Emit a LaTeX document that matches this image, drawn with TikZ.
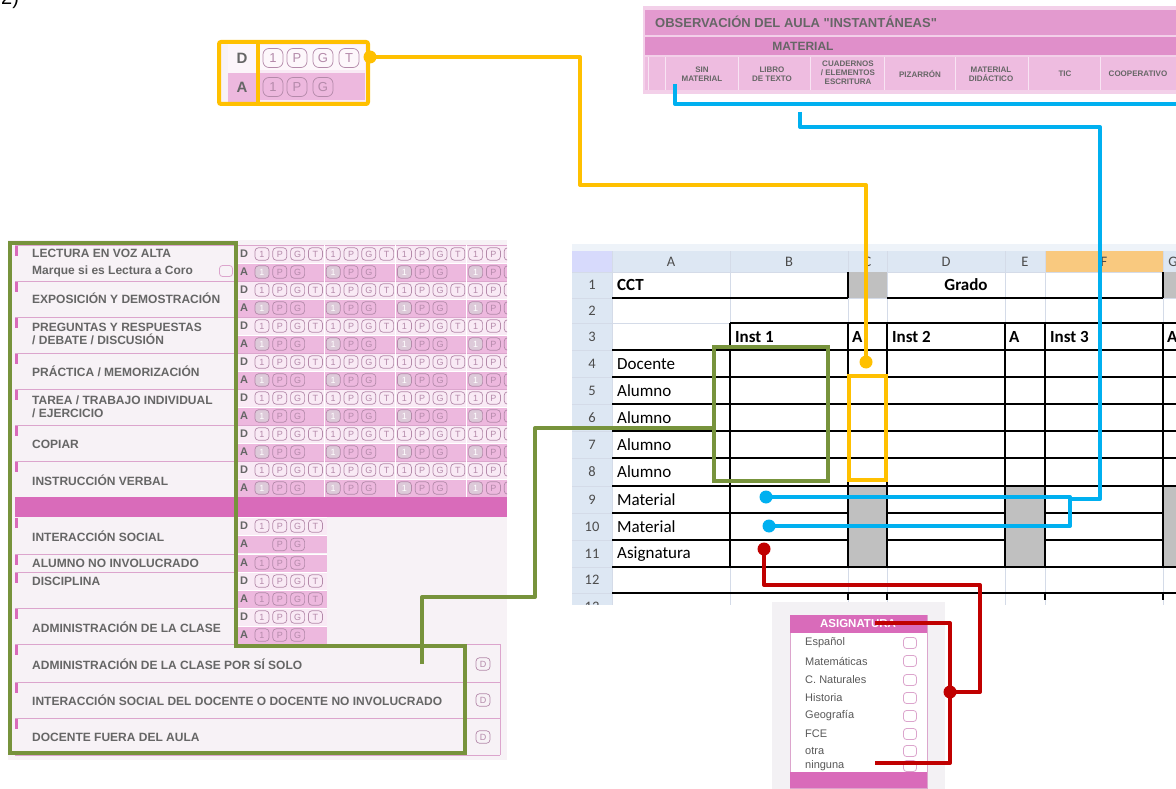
\documentclass[tikz,border=0pt]{standalone}
\usepackage{fontspec}
\setmainfont{Liberation Sans}
\newfontfamily\plainsans{Liberation Sans}
\newfontfamily\calib{Carlito}
\usetikzlibrary{calc}
\definecolor{cyanl}{HTML}{00B0F0}
\definecolor{yell}{HTML}{FFC000}
\definecolor{grnl}{HTML}{77933C}
\definecolor{redl}{HTML}{C00000}
\definecolor{formbg}{HTML}{F7F2F6}
\definecolor{pinkA}{HTML}{EDB8DE}
\definecolor{pinkD}{HTML}{F9EAF5}
\definecolor{magent}{HTML}{D96BBA}
\definecolor{sepc}{HTML}{DCA5CD}
\definecolor{circc}{HTML}{B48AAA}
\definecolor{ftxt}{HTML}{666666}
\definecolor{shhead}{HTML}{DDE7F3}
\definecolor{gridc}{HTML}{D4DBE8}
\definecolor{grayf}{HTML}{C0C0C0}
\definecolor{orangeh}{HTML}{F9C97F}
\definecolor{titlep}{HTML}{E39ACF}
\definecolor{matp}{HTML}{E08FCA}
\definecolor{colp}{HTML}{EEBCE0}
\definecolor{asigbg}{HTML}{F3F1F4}
\begin{document}
\begin{tikzpicture}[x=1pt,y=-1pt,
  con/.style={line width=4pt,line join=round},
  cdot/.style={circle,inner sep=0pt,minimum size=13pt},
  bub/.style={draw=circc,line width=0.7pt,rounded corners=3.5pt,minimum width=14pt,minimum height=12.5pt,inner sep=0pt,font=\fontsize{9}{9}\selectfont,text=circc},
  bubf/.style={bub,fill=circc!45,text=white},
  bigbub/.style={bub,minimum width=20pt,minimum height=19pt,rounded corners=6pt,font=\fontsize{13}{13}\selectfont},
  lab/.style={anchor=west,inner sep=0pt,font=\fontsize{12}{13}\selectfont\bfseries,text=ftxt,align=left},
  dal/.style={inner sep=0pt,font=\fontsize{11}{11}\selectfont\bfseries,text=ftxt},
  hdr/.style={inner sep=0pt,font=\fontsize{8}{9.2}\selectfont\bfseries,text=ftxt,align=center},
  cell/.style={anchor=west,inner sep=0pt,font=\calib\fontsize{17}{17}\selectfont},
  bcell/.style={anchor=west,inner sep=0pt,font=\calib\fontsize{17}{17}\selectfont\bfseries},
  colh/.style={inner sep=0pt,font=\calib\fontsize{14.5}{14.5}\selectfont,text=black!70},
  item/.style={anchor=west,inner sep=0pt,font=\fontsize{11}{11}\selectfont,text=black!65},
  cbox/.style={draw=sepc,line width=0.8pt,rounded corners=3pt,minimum width=13pt,minimum height=11pt,inner sep=0pt},
  sepl/.style={sepc,line width=0.8pt},
  blk/.style={black,line width=1.3pt},
  thk/.style={black,line width=2.2pt},
  grd/.style={gridc,line width=0.8pt}
]
\useasboundingbox (0,0) rectangle (1176,789);
\fill[white] (0,0) rectangle (1176,789);
\node[anchor=base west,inner sep=0pt,font=\fontsize{20}{20}\selectfont] (num) at (1,5) {2)};

% ================= left form =================
\begin{scope}
\clip (8,240) rectangle (507,760);
\fill[formbg] (8,240) rectangle (507,760);
\foreach \i in {0,...,6}{
  \pgfmathsetmacro\yd{245+36*\i}
  \fill[pinkD] (236,\yd) rectangle (507,\yd+18);
  \fill[pinkA] (236,\yd+18) rectangle (507,\yd+36);
  \draw[sepl] (15,\yd) -- (507,\yd);
  \draw[white,line width=0.6pt] (236,\yd+18) -- (507,\yd+18);
  \fill[magent] (15,\yd+1) rectangle (18,\yd+11);
  \node[dal] (d\i) at (244,\yd+9) {D};
  \node[dal] (a\i) at (244,\yd+27) {A};
  \foreach \g in {0,...,3}{
    \foreach \k/\l in {0/1,1/P,2/G,3/T}{
      \pgfmathsetmacro\xx{262+(4*\g+\k)*17.8}
      \node[bub] (bd\i\g\k) at (\xx,\yd+9) {\l};
    }
    \pgfmathsetmacro\xa{262+4*\g*17.8}
    \node[bubf] (ba\i\g0) at (\xa,\yd+27) {1};
    \node[bub] (ba\i\g1) at (\xa+17.8,\yd+27) {P};
    \node[bub] (ba\i\g2) at (\xa+35.6,\yd+27) {G};
  }
}
\foreach \g in {1,2,3}{
  \draw[white,line width=1pt] ({262+4*\g*17.8-8.9},245) -- ++(0,252);
}
\draw[sepl] (15,497) -- (507,497);
\fill[magent] (15,497) rectangle (507,517);
% lower rows
\foreach \yt/\c/\l in {517/pinkD/D,535/pinkA/A,554/pinkA/A,572/pinkD/D,590/pinkA/A,608/pinkD/D,626/pinkA/A}{
  \fill[\c] (236,\yt) rectangle (327,\yt+18);
  \draw[white,line width=0.6pt] (236,\yt) -- (327,\yt);
  \node[dal] (ld\yt) at (244,\yt+9) {\l};
}
\foreach \yt in {554,572,608,644,682,718}{
  \draw[sepl] (15,\yt) -- (236,\yt);
}
\foreach \yt in {517,554,572,608,644,682,718}{
  \fill[magent] (15,\yt+1) rectangle (18,\yt+11);
}
\foreach \k/\l in {0/1,1/P,2/G,3/T}{
  \node[bub] (x1\k) at ({262+\k*17.8},526) {\l};
  \node[bub] (x4\k) at ({262+\k*17.8},581) {\l};
  \node[bub] (x5\k) at ({262+\k*17.8},599) {\l};
  \node[bub] (x6\k) at ({262+\k*17.8},617) {\l};
}
\foreach \k/\l in {1/P,2/G}{
  \node[bub] (x2\k) at ({262+\k*17.8},544.5) {\l};
}
\foreach \k/\l in {0/1,1/P,2/G}{
  \node[bub] (x3\k) at ({262+\k*17.8},563) {\l};
  \node[bub] (x7\k) at ({262+\k*17.8},635) {\l};
}
% wide rows
\foreach \yt in {644,682,718,755}{
  \draw[sepl] (15,\yt) -- (500,\yt);
}
\draw[sepl] (465,644) -- (465,755);
\draw[sepl] (500,644) -- (500,755);
\node[bub] (wd1) at (483,664) {D};
\node[bub] (wd2) at (483,700) {D};
\node[bub] (wd3) at (483,737) {D};
\end{scope}

\node[lab] (l0) at (32,253) {LECTURA EN VOZ ALTA};
\node[lab] (l0b) at (32,271) {Marque si es Lectura a Coro};
\node[cbox] (cb0) at (226,271) {};
\node[lab] (l1) at (32,298) {EXPOSICIÓN Y DEMOSTRACIÓN};
\node[lab] (l2) at (32,334) {PREGUNTAS Y RESPUESTAS\\/ DEBATE / DISCUSIÓN};
\node[lab] (l3) at (32,371) {PRÁCTICA / MEMORIZACIÓN};
\node[lab] (l4) at (32,407) {TAREA / TRABAJO INDIVIDUAL\\/ EJERCICIO};
\node[lab] (l5) at (32,444) {COPIAR};
\node[lab] (l6) at (32,480) {INSTRUCCIÓN VERBAL};
\node[lab] (l7) at (32,536) {INTERACCIÓN SOCIAL};
\node[lab] (l8) at (32,563) {ALUMNO NO INVOLUCRADO};
\node[lab] (l9) at (32,581) {DISCIPLINA};
\node[lab] (l10) at (32,627) {ADMINISTRACIÓN DE LA CLASE};
\node[lab] (l11) at (32,664) {ADMINISTRACIÓN DE LA CLASE POR SÍ SOLO};
\node[lab] (l12) at (32,700) {INTERACCIÓN SOCIAL DEL DOCENTE O DOCENTE NO INVOLUCRADO};
\node[lab] (l13) at (32,737) {DOCENTE FUERA DEL AULA};

% ================= top right header form =================
\fill[colp!70!white] (643,6) rectangle (1176,94);
\fill[titlep] (645,10) rectangle (1176,35);
\fill[matp] (645,37) rectangle (1176,55);
\fill[colp] (645,57) rectangle (1176,90);
\foreach \x in {648,665,738,810,884,955,1028,1100}{
  \draw[white!60!colp,line width=1pt] (\x,57) -- (\x,90);
}
\node[anchor=west,inner sep=0pt,font=\plainsans\fontsize{13}{13}\selectfont\bfseries,text=ftxt] (otit) at (655,22) {OBSERVACIÓN DEL AULA "INSTANTÁNEAS"};
\node[inner sep=0pt,font=\fontsize{12}{12}\selectfont\bfseries,text=ftxt] (omat) at (803,46) {MATERIAL};
\node[hdr] (h1) at (702,74) {SIN\\MATERIAL};
\node[hdr] (h2) at (772,74) {LIBRO\\DE TEXTO};
\node[hdr] (h3) at (848,73) {CUADERNOS\\/ ELEMENTOS\\ESCRITURA};
\node[hdr] (h4) at (920,74) {PIZARRÓN};
\node[hdr] (h5) at (991,74) {MATERIAL\\DIDÁCTICO};
\node[hdr] (h6) at (1065,74) {TIC};
\node[hdr] (h7) at (1138,74) {COOPERATIVO};

% ================= top-left snippet =================
\fill[pinkD] (219,42) rectangle (368,104);
\fill[formbg] (219,42) rectangle (228,104);
\fill[white!50!pinkD] (228,42) rectangle (258,73);
\fill[pinkA] (228,73) rectangle (258,104);
\fill[white!60!pinkD] (258,45) rectangle (365,70);
\fill[pinkA] (258,73) rectangle (365,100);
\node[inner sep=0pt,font=\fontsize{15}{15}\selectfont\bfseries,text=ftxt] (sD) at (242,58) {D};
\node[inner sep=0pt,font=\fontsize{15}{15}\selectfont\bfseries,text=ftxt] (sA) at (242,87) {A};
\foreach \k/\l/\x in {0/1/273,1/P/297,2/G/323,3/T/349}{
  \node[bigbub] (sbd\k) at (\x,58) {\l};
}
\foreach \k/\l/\x in {0/1/273,1/P/297,2/G/323}{
  \node[bigbub] (sba\k) at (\x,87) {\l};
}
\draw[yell,line width=4pt,rounded corners=2pt] (219,42) rectangle (368,104);
\draw[yell,line width=4pt] (258,42) -- (258,104);

% ================= spreadsheet =================
\begin{scope}
\clip (572,244) rectangle (1176,604);
\fill[white] (572,244) rectangle (1176,605);
\fill[shhead!50] (572,244) rectangle (1176,251);
\fill[shhead] (572,251) rectangle (1176,272);
\fill[orangeh] (1045,251) rectangle (1163,272);
\fill[shhead] (572,272) rectangle (612,605);
\fill[shhead!70!blue!40] (572,251) rectangle (612,272);
\foreach \x in {612,730,848,887,1005,1045,1163}{
  \draw[grd] (\x,251) -- (\x,605);
}
\foreach \y in {272,298,323,350,377,404,431,458,486,513,540,567,593}{
  \draw[grd] (572,\y) -- (1176,\y);
}
\foreach \l/\x in {A/671,B/789,C/867.5,D/946,E/1025,F/1104,G/1173}{
  \node[colh] (ch\l) at (\x,262) {\l};
}
\foreach \n/\y in {1/285,2/310.5,3/336.5,4/363.5,5/390.5,6/417.5,7/444.5,8/472,9/499.5,10/526.5,11/553.5,12/580,13/607}{
  \node[colh] (rn\n) at (592,\y) {\n};
}
% row 1
\fill[grayf] (848,272) rectangle (887,298);
\fill[grayf] (1163,272) rectangle (1176,298);
\draw[thk] (612,298) -- (848,298);
\draw[thk] (848,272) -- (848,298);
\draw[thk] (887,298) -- (1163,298);
\draw[thk] (1163,272) -- (1163,298);
% table
\draw[thk] (730,323) -- (1176,323);
\foreach \y in {377,404,431,458,486,513,540}{
  \draw[blk] (612,\y) -- (1176,\y);
}
\fill[grayf] (848,486.6) rectangle (887,566.4);
\fill[grayf] (1005,486.6) rectangle (1045,566.4);
\fill[grayf] (1163,486.6) rectangle (1176,566.4);
\draw[thk] (612,350) -- (1176,350);
\draw[blk] (612,567) -- (1176,567);
\foreach \x in {730,848,887,1005,1045,1163}{
  \draw[thk] (\x,323) -- (\x,567);
}
\draw[thk] (612,593) -- (1176,593);
\foreach \x in {848,887,1045,1163}{
  \draw[thk] (\x,593) -- (\x,600);
}
\node[bcell] (cct) at (617,285) {CCT};
\node[inner sep=0pt,font=\calib\fontsize{17}{17}\selectfont\bfseries] (grado) at (966,285) {Grado};
\node[bcell] (i1) at (735,337) {Inst 1};
\node[bcell] (ia1) at (852,337) {A};
\node[bcell] (i2) at (892,337) {Inst 2};
\node[bcell] (ia2) at (1009,337) {A};
\node[bcell] (i3) at (1050,337) {Inst 3};
\node[bcell] (ia3) at (1167,337) {A};
\node[cell] (r4) at (617,364) {Docente};
\node[cell] (r5) at (617,391) {Alumno};
\node[cell] (r6) at (617,418) {Alumno};
\node[cell] (r7) at (617,445) {Alumno};
\node[cell] (r8) at (617,472) {Alumno};
\node[cell] (r9) at (617,500) {Material};
\node[cell] (r10) at (617,527) {Material};
\node[cell] (r11) at (617,554) {Asignatura};
\end{scope}

% ================= asignatura box =================
\fill[asigbg] (772,602) rectangle (945,789);
\fill[white] (790,615) rectangle (927,788);
\draw[sepc,line width=1pt] (790,615) rectangle (927,788);
\fill[magent] (790,615) rectangle (927,633);
\node[inner sep=0pt,font=\fontsize{11.5}{11.5}\selectfont\bfseries,text=white] (asg) at (858,624) {ASIGNATURA};
\foreach \n/\t/\y in {1/Español/643,2/Matemáticas/661,3/C. Naturales/680,4/Historia/698,5/Geografía/716,6/FCE/734,7/otra/751,8/ninguna/766}{
  \node[item] (it\n) at (805,\y) {\t};
  \node[cbox] (ck\n) at (910,\y) {};
}
\fill[magent] (790,772) rectangle (927,788);

% ================= connectors =================
% green
\draw[grnl,line width=4.5pt] (10,243) -- (236,243) -- (236,646) -- (465,646) -- (465,753) -- (10,753) -- cycle;
\draw[grnl,line width=4pt] (714,347) rectangle (828,481);
\coordinate (gs) at (422,664);
\coordinate (ge) at (714,428);
\draw[con,grnl] (gs) |- (535,597) |- (ge);
% yellow
\draw[yell,line width=4pt] (849,376) rectangle (886,480);
\node[cdot,fill=yell] (ys) at (370,57) {};
\node[cdot,fill=yell] (ye) at (866,362) {};
\draw[con,yell] (ys.center) -| (580,185) -| (ye.center);
% blue
\coordinate (bs1) at (675,84);
\coordinate (be1) at (1180,104);
\draw[con,cyanl] (bs1) |- (be1);
\coordinate (bs2) at (800,112);
\coordinate (bj) at (1070,499);
\draw[con,cyanl] (bs2) |- (1100,127) |- (bj);
\node[cdot,fill=cyanl] (bd9) at (766,497) {};
\node[cdot,fill=cyanl] (bd10) at (769,526) {};
\draw[con,cyanl] (bd9.center) -| (1070,526) -- (bd10.center);
% red
\node[cdot,fill=redl] (rd11) at (764,549) {};
\node[cdot,fill=redl] (rdb) at (950,692) {};
\draw[con,redl] (rd11.center) |- (980,585) |- (rdb.center);
\coordinate (rt) at (875,623);
\coordinate (rb) at (875,763);
\draw[con,redl] (rt) -| (950,763) -- (rb);
\end{tikzpicture}
\end{document}
